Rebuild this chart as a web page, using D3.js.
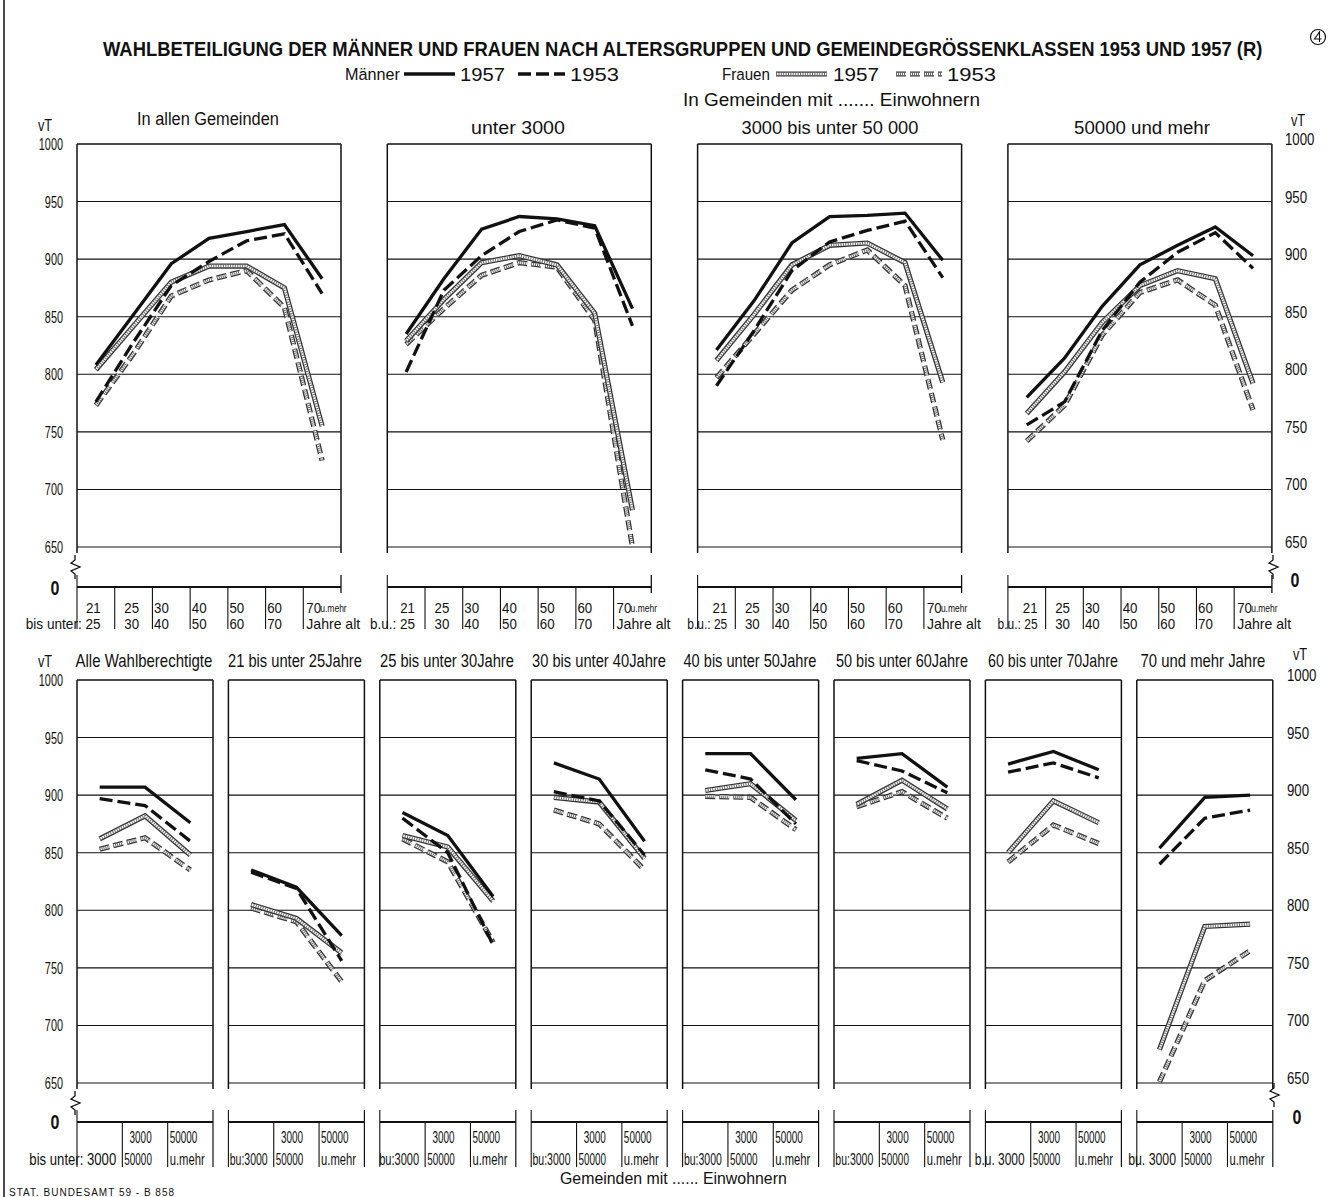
<!DOCTYPE html>
<html><head><meta charset="utf-8">
<script src="https://cdn.jsdelivr.net/npm/d3@7"></script>
<style>
html,body{margin:0;padding:0;background:#fff;}
svg text{font-family:"Liberation Sans","DejaVu Sans",Arial,sans-serif;fill:#111;}
</style></head>
<body>
<svg id="c" width="1329" height="1197"></svg>
<script>
// ---------- DATA ----------
const ageGroups = ["21-25","25-30","30-40","40-50","50-60","60-70","70+"];
const ageLine1 = ["21","25","30","40","50","60","70"];
const ageLine2 = ["25","30","40","50","60","70","Jahre alt"];
const ageFirstPrefix = ["bis unter: 25","b.u.: 25","b.u.: 25","b.u.: 25"];
const sizeGroups = ["unter 3000","3000-50000","50000 u.mehr"];
const sizeFirst = ["bis unter: 3000","bu:3000","bu:3000","bu:3000","bu:3000","bu:3000","b.u. 3000","bu. 3000"];
const topTitles = ["In allen Gemeinden","unter 3000","3000 bis unter 50 000","50000 und mehr"];
const bottomTitles = ["Alle Wahlberechtigte","21 bis unter 25Jahre","25 bis unter 30Jahre","30 bis unter 40Jahre","40 bis unter 50Jahre","50 bis unter 60Jahre","60 bis unter 70Jahre","70 und mehr Jahre"];
const yTicks = [650,700,750,800,850,900,950,1000];

// top panels: by age group, one array per size class
const topMen1957   = [[808,852,896,918,924,930,883],[835,883,926,937,935,929,857],[821,864,914,937,938,940,899],[780,814,859,895,912,928,903]];
const topMen1953   = [[776,828,877,898,916,922,870],[802,873,903,924,934,927,842],[790,838,890,915,925,933,884],[756,776,838,880,906,923,892]];
const topWomen1957 = [[804,842,880,894,894,875,755],[829,865,897,903,895,853,682],[812,852,895,912,914,897,793],[766,802,845,877,890,883,792]];
const topWomen1953 = [[773,818,868,882,890,858,725],[826,857,886,897,893,847,650],[797,835,873,895,908,877,743],[742,773,834,871,882,860,769]];

// bottom panels: by size class, one array per age group
const botMen1957   = [[907,907,876],[835,820,778],[885,865,812],[928,914,860],[936,936,896],[932,936,907],[927,938,922],[854,898,900]];
const botMen1953   = [[897,891,860],[833,819,756],[880,850,770],[903,895,848],[922,914,875],[930,921,902],[920,928,915],[840,880,887]];
const botWomen1957 = [[862,882,848],[805,793,763],[865,855,808],[898,894,845],[904,910,878],[892,913,888],[850,895,876],[679,786,788]];
const botWomen1953 = [[853,863,835],[802,790,738],[862,842,772],[887,875,835],[899,898,870],[890,903,880],[842,874,858],[651,739,765]];

// ---------- DRAW ----------
const svg = d3.select("#c");
const INK = "#111";

svg.append("line").attr("x1",4).attr("x2",4).attr("y1",0).attr("y2",1197).attr("stroke",INK).attr("stroke-width",1.5);

// condensed text: shrink font so natural width = target width, then stretch vertically back
function txt(x,y,s,opt={}){
  const size = opt.size||16;
  const t = svg.append("text").text(s).attr("x",0).attr("y",0)
    .attr("font-size",size).attr("text-anchor","start");
  if(opt.weight) t.attr("font-weight",opt.weight);
  if(opt.ls) t.attr("letter-spacing",opt.ls);
  const w = t.node().getComputedTextLength();
  const L = opt.len || w*(opt.sx||0.66);
  const k = L/w;                 // horizontal compression
  const newSize = size*k;
  t.attr("font-size",newSize);
  if(opt.ls) t.attr("letter-spacing",opt.ls*k);
  let xs = x;
  if(opt.anchor==="end") xs = x-L;
  else if(opt.anchor==="middle") xs = x-L/2;
  t.attr("transform",`translate(${xs},${y}) scale(1,${1/k})`);
  return t;
}

// title
txt(103,56,"WAHLBETEILIGUNG DER MÄNNER UND FRAUEN NACH ALTERSGRUPPEN UND GEMEINDEGRÖSSENKLASSEN 1953 UND 1957 (R)",{size:20,weight:"bold",len:1160});
svg.append("circle").attr("cx",1318).attr("cy",37).attr("r",7.5).attr("fill","none").attr("stroke",INK).attr("stroke-width",1.2);
svg.append("path").attr("d","M1319.5,42 L1319.5,32 L1314.5,39 L1321.5,39").attr("fill","none").attr("stroke",INK).attr("stroke-width",1.1);

// series styles
const lineGen = d3.line();
function drawSeries(g, pts, kind){
  const d = lineGen(pts);
  const add = (w,c,da)=>{ const p=g.append("path").attr("d",d).attr("fill","none").attr("stroke",c).attr("stroke-width",w).attr("stroke-linejoin","miter").attr("stroke-linecap","butt"); if(da) p.attr("stroke-dasharray",da); return p;};
  if(kind==="m57"){ add(3.3,INK); }
  else if(kind==="m53"){ add(3.3,INK,"13 5"); }
  else if(kind==="w57"){ add(5.2,"#333"); add(2.6,"#fff"); add(2.6,"#666","1 1.4"); }
  else if(kind==="w53"){ add(5.2,"#333","10 4"); add(2.6,"#fff","10 4"); add(2.6,"#666","1 1 1 1 1 1 1 1 1 1 0 4"); }
}

// legend
txt(345,80,"Männer",{size:17,len:55});
drawSeries(svg,[[404,74],[455,74]],"m57"); txt(460,81,"1957",{size:19,len:45});
drawSeries(svg,[[518,74],[565,74]],"m53"); txt(570,81,"1953",{size:19,len:49});
txt(722,80,"Frauen",{size:17,len:48});
drawSeries(svg,[[776,74],[827,74]],"w57"); txt(833,81,"1957",{size:19,len:46});
drawSeries(svg,[[896,74],[942,74]],"w53"); txt(947,81,"1953",{size:19,len:49});
txt(683,106,"In Gemeinden mit ....... Einwohnern",{size:19,len:297});

function zigzag(x,y0){
  svg.append("path").attr("d",`M${x},${y0} l0,5 l-4,3 l9,4 l-9,4 l4,3 l0,5`).attr("fill","none").attr("stroke",INK).attr("stroke-width",1.3);
}

function panelFrame(g, left, w, y, yZero){
  yTicks.forEach(v=>{
    g.append("line").attr("x1",left).attr("x2",left+w).attr("y1",y(v)).attr("y2",y(v))
      .attr("stroke",INK).attr("stroke-width", v===1000?1.6:1.1);
  });
  [left,left+w].forEach(x=>{
    g.append("line").attr("x1",x).attr("x2",x).attr("y1",y(1000)).attr("y2",y(650)+6).attr("stroke",INK).attr("stroke-width",1.5);
  });
  g.append("line").attr("x1",left).attr("x2",left+w).attr("y1",yZero).attr("y2",yZero).attr("stroke",INK).attr("stroke-width",2);
}

// ---------- TOP PANELS ----------
const yTop = d3.scaleLinear().domain([650,1000]).range([547,144]);
const yTopZero = 587;
const topLefts = [77,387.3,697.6,1007.9];
const topW = 264;
const topTitleLen = [142,94,177,136];
const topTitleX = [208,518,830,1142];
const topTitleY = [125,134,134,134];
const firstLen = [75,45,40,40];
const firstEnd = [14,10,8,8];
topLefts.forEach((left,i)=>{
  const g = svg.append("g");
  panelFrame(g,left,topW,yTop,yTopZero);
  const x = d3.scaleBand().domain(ageGroups).range([left,left+topW]);
  const bw = x.bandwidth();
  const cx = c=>x(c)+bw/2;
  ageGroups.forEach((c,j)=>{
    const xs = x(c);
    g.append("line").attr("x1",xs).attr("x2",xs).attr("y1",j===0?yTopZero-12:yTopZero).attr("y2",yTopZero+42).attr("stroke",INK).attr("stroke-width",1.1);
  });
  g.append("line").attr("x1",left+topW).attr("x2",left+topW).attr("y1",yTopZero-12).attr("y2",yTopZero+6).attr("stroke",INK).attr("stroke-width",1.3);
  ageGroups.forEach((c,j)=>{
    const xs = x(c);
    if(j===0){
      const xe = xs+bw-firstEnd[i];
      txt(xe,613,ageLine1[j],{size:14,anchor:"end",sx:0.95});
      txt(xe-firstLen[i],629,ageFirstPrefix[i],{size:14,len:firstLen[i]});
    } else if(j===6){
      txt(xs+3,613,ageLine1[j],{size:14,sx:0.95});
      txt(xs+17,612,"u.mehr",{size:10,sx:0.85});
      txt(xs+3,629,ageLine2[j],{size:14,len:54});
    } else {
      const off = j===1?17:9;
      txt(xs+off,613,ageLine1[j],{size:14,anchor:"middle",sx:0.95});
      txt(xs+off,629,ageLine2[j],{size:14,anchor:"middle",sx:0.95});
    }
  });
  const pts = arr=>arr.map((v,j)=>[cx(ageGroups[j]),yTop(v)]);
  drawSeries(g,pts(topWomen1953[i]),"w53");
  drawSeries(g,pts(topWomen1957[i]),"w57");
  drawSeries(g,pts(topMen1953[i]),"m53");
  drawSeries(g,pts(topMen1957[i]),"m57");
  txt(topTitleX[i]-topTitleLen[i]/2, topTitleY[i], topTitles[i],{size:19,len:topTitleLen[i]});
});
txt(45,131,"vT",{size:17,anchor:"middle",sx:0.75});
txt(1298,126,"vT",{size:17,anchor:"middle",sx:0.75});
yTicks.forEach(v=>{
  txt(63,yTop(v)+6,String(v),{size:17,anchor:"end",sx:0.64});
  txt(1285,yTop(v)+1,String(v),{size:17,sx:0.78});
});
txt(55,595,"0",{size:20,weight:"bold",anchor:"middle",sx:0.8});
txt(1295,587,"0",{size:20,weight:"bold",anchor:"middle",sx:0.8});
zigzag(75,555);
zigzag(1273,555);

// ---------- BOTTOM PANELS ----------
const yBot = d3.scaleLinear().domain([650,1000]).range([1083,680]);
const yBotZero = 1122;
const botLefts = d3.range(8).map(i=>77+i*151.4);
const botW = 136;
const botTitleLen = [137,134,134,134,133,132,130,125];
const botTitleX = [144,295,447,599,750,902,1053,1203];
const sizeFirstLen = [87,38,40,38,38,38,50,48];
botLefts.forEach((left,i)=>{
  const g = svg.append("g");
  panelFrame(g,left,botW,yBot,yBotZero);
  const x = d3.scaleBand().domain(sizeGroups).range([left,left+botW]);
  const cx = c=>x(c)+x.bandwidth()/2;
  sizeGroups.forEach((c,j)=>{
    const xs = x(c);
    g.append("line").attr("x1",xs).attr("x2",xs).attr("y1",j===0?yBotZero-12:yBotZero).attr("y2",yBotZero+45).attr("stroke",INK).attr("stroke-width",1.1);
  });
  g.append("line").attr("x1",left+botW).attr("x2",left+botW).attr("y1",yBotZero-12).attr("y2",yBotZero+45).attr("stroke",INK).attr("stroke-width",1.2);
  const s1 = x(sizeGroups[1]), s2 = x(sizeGroups[2]);
  txt(s1-6-sizeFirstLen[i],1165,sizeFirst[i],{size:16,len:sizeFirstLen[i]});
  txt(s2-16,1143,"3000",{size:16,anchor:"end",sx:0.62});
  txt(s1+2,1165,"50000",{size:16,sx:0.62});
  txt(s2+2,1143,"50000",{size:16,sx:0.62});
  txt(s2+2,1165,"u.mehr",{size:16,len:35});
  const pts = arr=>arr.map((v,j)=>[cx(sizeGroups[j]),yBot(v)]);
  drawSeries(g,pts(botWomen1953[i]),"w53");
  drawSeries(g,pts(botWomen1957[i]),"w57");
  drawSeries(g,pts(botMen1953[i]),"m53");
  drawSeries(g,pts(botMen1957[i]),"m57");
  txt(botTitleX[i]-botTitleLen[i]/2,667,bottomTitles[i],{size:18,len:botTitleLen[i]});
});
txt(45,667,"vT",{size:17,anchor:"middle",sx:0.75});
txt(1300,660,"vT",{size:17,anchor:"middle",sx:0.75});
yTicks.forEach(v=>{
  txt(63,yBot(v)+6,String(v),{size:17,anchor:"end",sx:0.64});
  txt(1287,yBot(v)+1,String(v),{size:17,sx:0.78});
});
txt(55,1129,"0",{size:20,weight:"bold",anchor:"middle",sx:0.8});
txt(1297,1124,"0",{size:20,weight:"bold",anchor:"middle",sx:0.8});
zigzag(75,1091);
zigzag(1274,1083);

txt(560,1184,"Gemeinden mit ...... Einwohnern",{size:17,len:227});
txt(9,1196,"STAT. BUNDESAMT 59 - B 858",{size:10,ls:1,sx:1});
</script>
</body></html>
